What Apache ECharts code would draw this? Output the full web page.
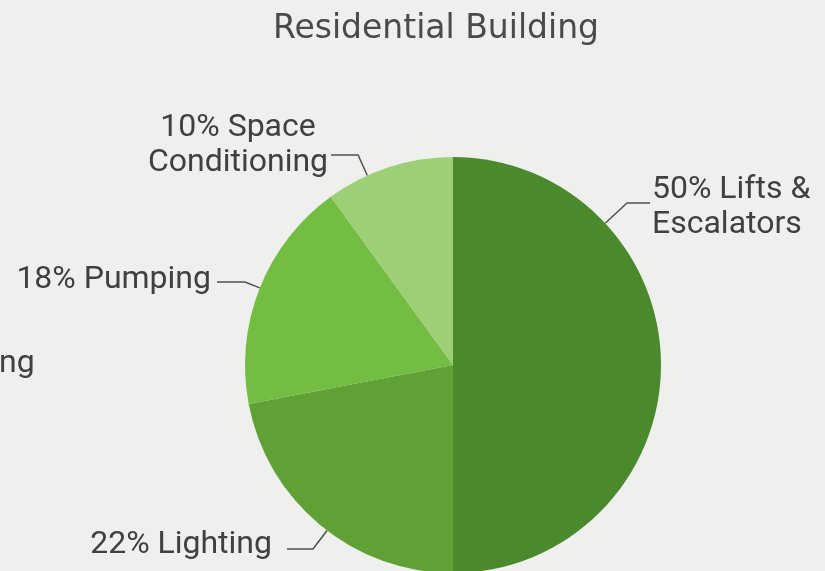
<!DOCTYPE html>
<html>
<head>
<meta charset="utf-8">
<script src="https://cdn.jsdelivr.net/npm/echarts@6/dist/echarts.min.js"></script>
<style>
html,body{margin:0;padding:0;background:#efefee;}
#chart{width:825px;height:571px;}
</style>
</head>
<body>
<div id="chart"></div>
<script>
// ---- data ----
const categories = ['Lifts &\nEscalators', 'Lighting', 'Pumping', 'Space\nConditioning'];
const values = [50, 22, 18, 10];
const colors = ['#4a8a2d', '#60a136', '#74bd43', '#9dd076'];
const titleText = 'Residential Building';

// ---- layout only ----
const pieCenter = [453, 365];
const pieRadius = 208;
const labelPlace = [
  { x: 652, y: 207, align: 'left',   gap: 2,  len: 23, lineDy: -4 },
  { x: 272, y: 545, align: 'right',  gap: 15, len: 26, lineDy: 4 },
  { x: 211, y: 280, align: 'right',  gap: 6,  len: 28, lineDy: 2 },
  { x: 238, y: 145, align: 'center', gap: 3,  len: 27, lineDy: 10 }
];

const labelFont = "Roboto, 'Liberation Sans', sans-serif";

const chart = echarts.init(document.getElementById('chart'), null, { renderer: 'canvas' });
chart.setOption({
  backgroundColor: '#efefee',
  animation: false,
  title: {
    text: titleText,
    left: 431,
    top: 8,
    textAlign: 'center',
    textStyle: { fontFamily: 'DejaVu Sans', fontSize: 33, fontWeight: 'normal', color: '#4a4a4a' }
  },
  graphic: [{
    type: 'text',
    left: -1,
    top: 348,
    style: { text: 'ng', fontFamily: labelFont, fontSize: 32, fill: '#404040' }
  }],
  series: [{
    type: 'pie',
    center: pieCenter,
    radius: pieRadius,
    startAngle: 90,
    clockwise: true,
    data: categories.map((c, i) => ({ name: c, value: values[i], itemStyle: { color: colors[i] } })),
    itemStyle: { borderWidth: 0 },
    label: {
      show: true,
      position: 'outside',
      formatter: p => p.percent + '% ' + p.name,
      fontFamily: labelFont,
      fontSize: 32,
      lineHeight: 35,
      color: '#404040',
      overflow: 'none'
    },
    labelLine: {
      show: true,
      length: 15,
      length2: 26,
      smooth: false,
      lineStyle: { color: '#505050', width: 1.5 }
    },
    labelLayout: function (params) {
      const p = labelPlace[params.dataIndex];
      const w = params.labelRect.width;
      let sx;
      if (p.align === 'left') sx = p.x - p.gap;
      else if (p.align === 'right') sx = p.x + p.gap;
      else sx = p.x + w / 2 + p.gap;
      const dir = p.align === 'left' ? -1 : 1;
      const ly = p.y + p.lineDy;
      const bx = sx + dir * p.len;
      const dx = bx - pieCenter[0], dy = ly - pieCenter[1];
      const d = Math.hypot(dx, dy);
      const ex = pieCenter[0] + dx * pieRadius / d;
      const ey = pieCenter[1] + dy * pieRadius / d;
      return {
        x: p.x, y: p.y, align: p.align, verticalAlign: 'middle',
        labelLinePoints: [[ex, ey], [bx, ly], [sx, ly]]
      };
    },
    emphasis: { disabled: true }
  }]
});
</script>
</body>
</html>
